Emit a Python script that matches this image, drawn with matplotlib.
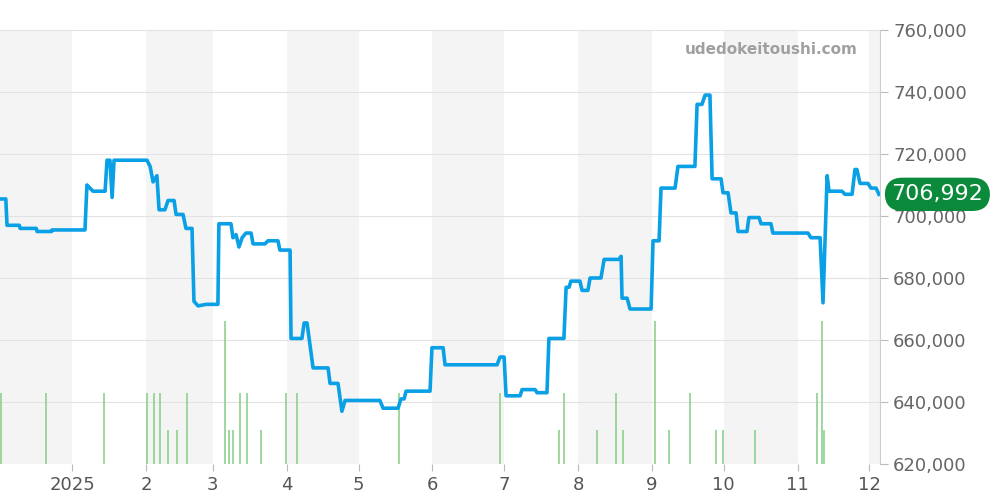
import matplotlib
matplotlib.use("Agg")
import matplotlib.pyplot as plt
import numpy as np
import datetime as dt

start = dt.datetime(2024, 12, 1, 19)
# day offsets (chart scale unit ~0.986 day)
price_days = [0,2.4,2.9,8.0,8.3,15.0,15.3,21.3,21.5,35.1,35.9,38.4,43.4,44.2,45.4,46.3,47.1,60.7,62,63.2,64.8,65.7,68.1,69.4,71.9,72.7,75.6,76.8,79.3,80.1,81.8,85.1,90,90.4,95.4,96.2,97.5,98.7,100,101.6,103.7,104.5,109.4,110.7,114.8,115.6,119.8,120.2,124.7,125.6,126.8,129.3,135.5,136.3,139.6,141.2,142.5,156.9,158.2,164.4,165.6,166.9,167.7,177.6,178.4,183,183.8,205.3,206.5,208.2,209,214.8,215.6,221,221.8,225.9,226.7,232.9,233.8,235,235.8,239.5,240.4,242.8,243.7,248.2,249.5,255.6,256.5,256.9,259,260.2,268.9,269.7,272.2,273,278.8,280,287,287.9,289.9,291.2,293.2,294.1,297.8,298.6,300.7,301.9,304,304.8,308.5,309.3,313.5,314.3,318.4,319.2,333.7,334.9,338.7,339.9,341.6,342.4,347.7,349,351.9,353.1,353.9,355.2,358.5,359.7,361.8,363]
price_vals = [705.5,705.5,697,697,696,696,695,695,695.5,695.5,710,708,708,718,718,706,718,718,716,711,713,702,702,705,705,700.5,700.5,696,696,672.5,671,671.5,671.5,697.5,697.5,693,694,690,693,694.5,694.5,691,691,692,692,689,689,660.5,660.5,665.5,665.5,651,651,646,646,637,640.5,640.5,638,638,641,641,643.5,643.5,657.5,657.5,652,652,654.5,654.5,642,642,644,644,643,643,660.5,660.5,677,677,679,679,676,676,680,680,686,686,687,673.5,673.5,670,670,692,692,709,709,716,716,736,736,739,739,712,712,707.5,707.5,701,701,695,695,699.5,699.5,697.5,697.5,694.5,694.5,693,693,672,713,708,708,707,707,715,715,710.5,710.5,709,709,707]
vol_days = [0.4,19,43,60.7,63.6,66.1,69.4,73.1,77.2,92.9,94.6,96.2,99.1,102,107.8,118.1,122.7,164.8,206.5,230.9,232.9,246.6,254.4,257.3,270.5,276.3,285,295.7,298.6,311.8,337.4,339.5,340.3]
vol_level = [643,643,643,643,643,643,631,631,643,666,631,631,643,643,631,643,643,643,643,631,643,631,643,631,666,631,643,631,631,631,643,666,631]
last_price = 706992
UNIT = 1.0145

fig = plt.figure(figsize=(10, 5), dpi=100)
ax = fig.add_axes([0, 0.072, 0.88, 0.868])
xs = [start + dt.timedelta(days=d * UNIT) for d in price_days]
vx = [start + dt.timedelta(days=d * UNIT) for d in vol_days]
x0 = start
x1 = dt.datetime(2025, 12, 5, 12)
ax.set_xlim(x0, x1)
ax.set_ylim(620000, 760000)

m = dt.datetime(2024, 12, 1)
i = 0
while m < x1:
    nm = dt.datetime(m.year + (m.month // 12), m.month % 12 + 1, 1)
    if i % 2 == 0:
        ax.axvspan(m, nm, color="#f4f4f4", zorder=0, lw=0)
    m = nm; i += 1

ax.grid(axis="y", color="#e2e2e2", lw=0.8, zorder=1)
ax.vlines(vx, 620000, [v * 1000 for v in vol_level], color="#8fd18f", lw=1.2, zorder=2)
ax.plot(xs, [v * 1000 for v in price_vals], color="#0aa0e6", lw=2.6, zorder=3)

for s in ["top", "left", "bottom"]:
    ax.spines[s].set_visible(False)
ax.spines["right"].set_color("#cccccc")
ax.yaxis.tick_right()
ax.set_yticks(np.arange(620000, 760001, 20000))
ax.yaxis.set_major_formatter(matplotlib.ticker.FuncFormatter(lambda v, p: f"{int(v):,}"))
ax.tick_params(axis="y", colors="#666666", labelsize=13, length=6, color="#bbbbbb")
ticks = [dt.datetime(2025, k, 1) for k in range(1, 13)]
ax.set_xticks(ticks)
ax.set_xticklabels(["2025"] + [str(k) for k in range(2, 13)])
ax.tick_params(axis="x", colors="#555555", labelsize=13, length=5, color="#bbbbbb")

ax.text(0.975, 0.955, "udedokeitoushi.com", transform=ax.transAxes, ha="right", va="center",
        fontsize=11, fontweight="bold", color="#a0a0a0")
ax.text(1.013, last_price, f"{last_price:,}", transform=ax.get_yaxis_transform(), ha="left", va="center",
        fontsize=16, color="white", zorder=10,
        bbox=dict(boxstyle="round,pad=0.3,rounding_size=0.8", fc="#0b8a3b", ec="none"))
fig.savefig("out.png")
